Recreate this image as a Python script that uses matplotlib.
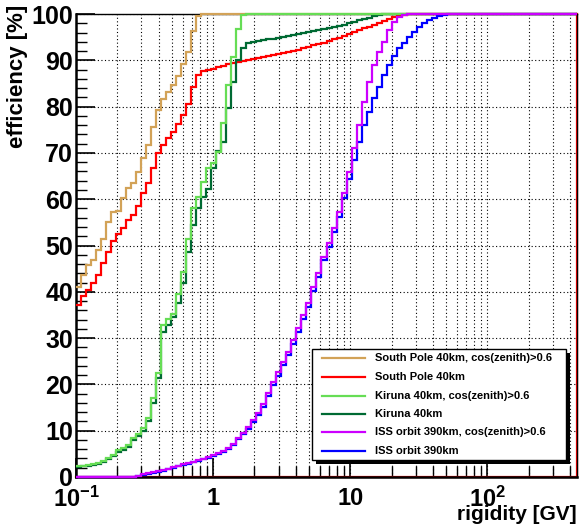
import numpy as np
import matplotlib
matplotlib.use("Agg")
import matplotlib.pyplot as plt
from matplotlib.patches import Rectangle
from matplotlib.lines import Line2D
from matplotlib.ticker import FixedLocator, MultipleLocator, FuncFormatter

plt.rcParams["font.family"] = ["Liberation Sans", "DejaVu Sans"]
plt.rcParams["font.weight"] = "bold"
plt.rcParams["mathtext.fontset"] = "custom"
plt.rcParams["mathtext.rm"] = "Liberation Sans:bold"
plt.rcParams["mathtext.bf"] = "Liberation Sans:bold"
plt.rcParams["mathtext.default"] = "rm"

# ==========================================================
# DATA  (efficiency in % per log-rigidity bin, 100 bins)
# ==========================================================

X_MIN = 0.1
X_MAX = 450.0
N_BINS = 100

south_pole_cos = [
    41.1, 43.6, 45.8, 46.9, 49.0, 51.3, 55.1, 57.2, 57.5, 60.2,
    62.4, 63.6, 65.9, 68.8, 71.6, 75.5, 79.3, 81.6, 83.2, 84.7,
    86.6, 89.1, 91.9, 96.4, 99.6, 100, 100, 100, 100, 100,
    100, 100, 100, 100, 100, 100, 100, 100, 100, 100,
    100, 100, 100, 100, 100, 100, 100, 100, 100, 100,
    100, 100, 100, 100, 100, 100, 100, 100, 100, 100,
    100, 100, 100, 100, 100, 100, 100, 100, 100, 100,
    100, 100, 100, 100, 100, 100, 100, 100, 100, 100,
    100, 100, 100, 100, 100, 100, 100, 100, 100, 100,
    100, 100, 100, 100, 100, 100, 100, 100, 100, 100,
]

south_pole = [
    37.2, 39.0, 40.4, 41.8, 43.6, 46.2, 48.6, 51.0, 52.5, 53.7,
    55.5, 56.6, 58.6, 61.3, 63.4, 66.7, 69.9, 71.7, 73.2, 74.6,
    76.2, 78.2, 80.6, 84.2, 86.8, 87.6, 87.9, 88.2, 88.5, 88.8,
    89.1, 89.4, 89.6, 89.9, 90.1, 90.3, 90.5, 90.7, 90.9, 91.1,
    91.3, 91.5, 91.7, 92.0, 92.3, 92.6, 92.9, 93.2, 93.5, 93.8,
    94.1, 94.5, 94.9, 95.3, 95.7, 96.1, 96.5, 96.9, 97.3, 97.7,
    98.1, 98.5, 98.9, 99.3, 99.6, 99.8, 100, 100, 100, 100,
    100, 100, 100, 100, 100, 100, 100, 100, 100, 100,
    100, 100, 100, 100, 100, 100, 100, 100, 100, 100,
    100, 100, 100, 100, 100, 100, 100, 100, 100, 100,
]

kiruna_cos = [
    2.4, 2.4, 2.5, 2.7, 3.0, 3.5, 4.0, 4.8, 5.8, 6.3,
    6.9, 8.4, 9.3, 10.5, 12.7, 17.1, 22.5, 32.8, 34.2, 35.3,
    39.6, 44.2, 51.5, 58.0, 60.5, 63.8, 66.8, 67.9, 70.3, 76.5,
    84.7, 90.8, 96.8, 99.8, 100, 100, 100, 100, 100, 100,
    100, 100, 100, 100, 100, 100, 100, 100, 100, 100,
    100, 100, 100, 100, 100, 100, 100, 100, 100, 100,
    100, 100, 100, 100, 100, 100, 100, 100, 100, 100,
    100, 100, 100, 100, 100, 100, 100, 100, 100, 100,
    100, 100, 100, 100, 100, 100, 100, 100, 100, 100,
    100, 100, 100, 100, 100, 100, 100, 100, 100, 100,
]

kiruna = [
    2.2, 2.3, 2.4, 2.6, 2.9, 3.3, 3.8, 4.5, 5.4, 5.9,
    6.5, 7.9, 8.8, 9.9, 12.0, 16.0, 21.4, 31.4, 32.8, 34.6,
    37.5, 42.0, 48.7, 54.4, 58.0, 60.5, 62.3, 66.7, 70.5, 72.4,
    79.8, 85.4, 90.0, 92.7, 93.7, 93.9, 94.1, 94.3, 94.5, 94.7,
    94.9, 95.1, 95.3, 95.5, 95.7, 95.9, 96.1, 96.3, 96.5, 96.7,
    96.9, 97.1, 97.4, 97.7, 98.0, 98.3, 98.6, 98.9, 99.2, 99.5,
    99.7, 99.9, 100, 100, 100, 100, 100, 100, 100, 100,
    100, 100, 100, 100, 100, 100, 100, 100, 100, 100,
    100, 100, 100, 100, 100, 100, 100, 100, 100, 100,
    100, 100, 100, 100, 100, 100, 100, 100, 100, 100,
]

iss_cos = [
    0, 0, 0, 0, 0, 0, 0, 0, 0, 0,
    0, 0, 0.3, 0.6, 0.8, 1.0, 1.2, 1.5, 1.8, 2.1,
    2.4, 2.7, 3.0, 3.3, 3.6, 3.9, 4.3, 4.7, 5.1, 5.6,
    6.3, 7.2, 8.5, 9.6, 10.9, 12.3, 13.9, 15.8, 18.2, 20.6,
    22.7, 24.9, 27.1, 29.6, 32.1, 35.0, 37.6, 41.0, 44.1, 47.6,
    50.5, 53.7, 57.3, 61.4, 65.9, 71.0, 76.0, 81.1, 85.4, 89.0,
    91.9, 94.0, 96.5, 98.3, 99.4, 99.8, 100, 100, 100, 100,
    100, 100, 100, 100, 100, 100, 100, 100, 100, 100,
    100, 100, 100, 100, 100, 100, 100, 100, 100, 100,
    100, 100, 100, 100, 100, 100, 100, 100, 100, 100,
]

iss = [
    0, 0, 0, 0, 0, 0, 0, 0, 0, 0,
    0, 0, 0.2, 0.5, 0.7, 0.9, 1.1, 1.4, 1.7, 2.0,
    2.3, 2.6, 2.9, 3.2, 3.5, 3.8, 4.1, 4.5, 4.9, 5.4,
    6.0, 6.9, 8.1, 9.2, 10.4, 11.8, 13.3, 15.1, 17.5, 19.8,
    21.9, 24.1, 26.3, 28.8, 31.3, 34.1, 36.8, 40.1, 43.2, 46.8,
    49.7, 53.0, 56.2, 60.2, 64.3, 68.5, 72.4, 76.0, 78.9, 81.8,
    84.3, 86.8, 89.0, 90.9, 92.6, 93.8, 95.1, 96.2, 97.2, 98.0,
    98.7, 99.2, 99.6, 99.8, 100, 100, 100, 100, 100, 100,
    100, 100, 100, 100, 100, 100, 100, 100, 100, 100,
    100, 100, 100, 100, 100, 100, 100, 100, 100, 100,
]

labels = [
    "South Pole 40km, cos(zenith)>0.6",
    "South Pole 40km",
    "Kiruna 40km, cos(zenith)>0.6",
    "Kiruna 40km",
    "ISS orbit 390km, cos(zenith)>0.6",
    "ISS orbit 390km",
]
series = [south_pole_cos, south_pole, kiruna_cos, kiruna, iss_cos, iss]
colors = ["#d2a257", "#ff0000", "#66dd55", "#006a33", "#cc00ff", "#0000ff"]
draw_order = [0, 1, 3, 2, 5, 4]

# ==========================================================
# FIGURE
# ==========================================================

W, H = 579, 525
fig = plt.figure(figsize=(W / 100, H / 100), dpi=100)
fig.patch.set_facecolor("white")

L, R, T, B = 76, 577, 14, 477
ax = fig.add_axes([L / W, 1 - B / H, (R - L) / W, (B - T) / H])

edges = np.logspace(np.log10(X_MIN), np.log10(X_MAX), N_BINS + 1)

for i in draw_order:
    ax.stairs(series[i], edges, baseline=None, color=colors[i],
              lw=1.6, zorder=3, clip_on=False)

# red histogram outline closing along bottom / right edge
ax.plot([edges[0], edges[-1], edges[-1]], [0, 0, south_pole[-1]],
        color=colors[1], lw=1.6, zorder=2.5, clip_on=False)
ax.stairs(iss_cos[:12], edges[:13], baseline=None, color=colors[4],
          lw=1.6, zorder=3.5, clip_on=False)

ax.set_xscale("log")
ax.set_xlim(X_MIN, X_MAX)
ax.set_ylim(0, 100)

ax.xaxis.set_major_locator(FixedLocator([0.1, 1, 10, 100]))
minor_x = [m * 10.0 ** e for e in range(-1, 3) for m in range(2, 10)]
ax.xaxis.set_minor_locator(FixedLocator([v for v in minor_x if v < X_MAX]))
tick_txt = {0.1: r"$10^{-1}$", 1: "1", 10: "10", 100: r"$10^{2}$"}
ax.xaxis.set_major_formatter(FuncFormatter(
    lambda v, p: tick_txt.get(round(v, 3) if v < 1 else int(round(v)), "")))
ax.xaxis.set_minor_formatter(FuncFormatter(lambda v, p: ""))

ax.yaxis.set_major_locator(MultipleLocator(10))
ax.yaxis.set_minor_locator(MultipleLocator(2))

ax.tick_params(axis="both", which="major", direction="in", length=14,
               width=1.2, labelsize=18, top=False, right=False)
ax.tick_params(axis="both", which="minor", direction="in", length=8,
               width=1.0, top=False, right=False)
ax.tick_params(axis="x", which="major", pad=7, labelsize=17)
ax.tick_params(axis="y", which="major", pad=2)

grid_kw = dict(color="black", linestyle=(0, (1, 2.2)), linewidth=0.8)
ax.grid(True, which="major", axis="y", **grid_kw)
ax.grid(True, which="both", axis="x", **grid_kw)
ax.set_axisbelow(True)

for side in ["left", "bottom"]:
    ax.spines[side].set_linewidth(1.8)
for side in ["top", "right"]:
    ax.spines[side].set_linewidth(1.0)

fig.text(18 / W, 1 - 5 / H, "efficiency [%]", rotation=90, ha="center",
         va="top", fontsize=16, fontweight="bold")
fig.text(577 / W, 1 - 520 / H, "rigidity [GV]", ha="right", va="baseline",
         fontsize=15, fontweight="bold")

# ==========================================================
# LEGEND (ROOT style box with shadow)
# ==========================================================

def fx(x):
    return x / W


def fy(y):
    return 1 - y / H


lx0, ly0, lx1, ly1 = 312, 349, 566, 460
fig.add_artist(Rectangle((fx(lx0 + 4), fy(ly1 + 4)), fx(lx1 - lx0), (ly1 - ly0) / H,
                         transform=fig.transFigure, facecolor="black",
                         edgecolor="black", lw=0, zorder=10))
fig.add_artist(Rectangle((fx(lx0), fy(ly1)), fx(lx1 - lx0), (ly1 - ly0) / H,
                         transform=fig.transFigure, facecolor="white",
                         edgecolor="black", lw=1.0, zorder=11))

entry_y = [358.3, 377.0, 395.7, 414.0, 432.3, 450.7]
for lab, col, yy in zip(labels, colors, entry_y):
    fig.add_artist(Line2D([fx(322), fx(365)], [fy(yy), fy(yy)],
                          transform=fig.transFigure, color=col, lw=1.6,
                          zorder=12))
    fig.text(fx(375), fy(yy), lab, ha="left", va="center", fontsize=8,
             fontweight="bold", zorder=12)

fig.savefig("out.png", dpi=100)
